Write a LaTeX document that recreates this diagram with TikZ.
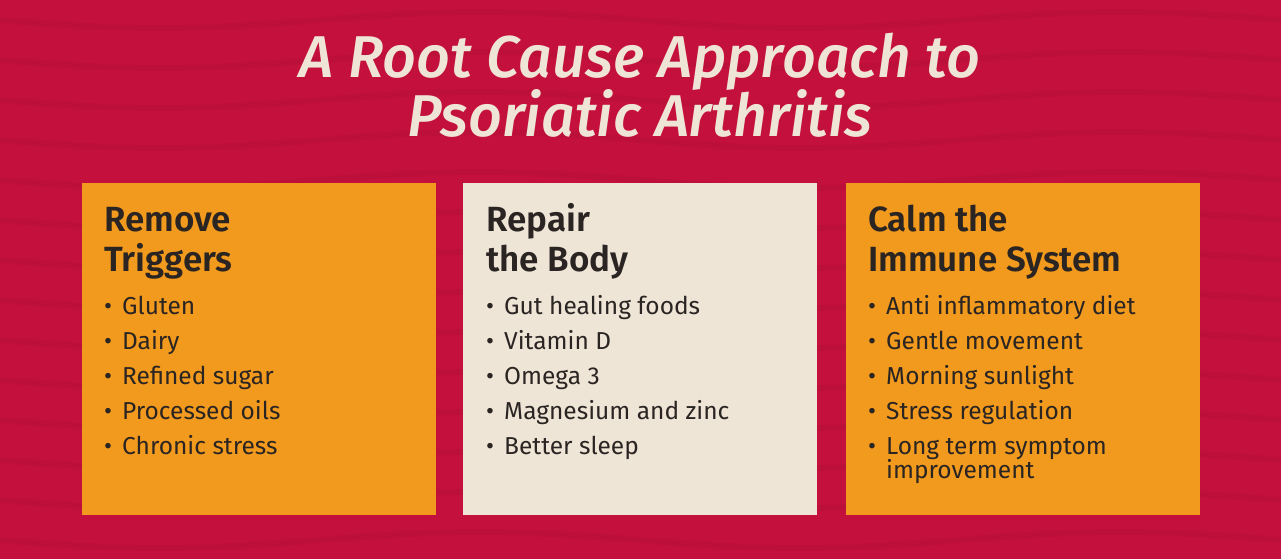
\documentclass[tikz,border=0pt]{standalone}
\usepackage{fontspec}
\setmainfont{Fira Sans}
\newfontfamily\headfont{Fira Sans SemiBold}
\newfontfamily\titlefont{Fira Sans Medium}
\definecolor{bg}{HTML}{C4103D}
\definecolor{org}{HTML}{F29A1E}
\definecolor{crm}{HTML}{EFE5D7}
\definecolor{ink}{HTML}{2A2522}
\tikzset{
 card/.style={inner sep=0pt,minimum width=354pt,minimum height=332pt,anchor=north west},
 head/.style={anchor=base west,font=\fontsize{35}{40}\headfont,text=ink,inner sep=0pt},
 item/.style={anchor=base west,font=\fontsize{24.5}{25}\selectfont,text=ink,inner sep=0pt},
 ttl/.style={anchor=base,font=\fontsize{59}{60}\titlefont\itshape,text=crm,inner sep=0pt}
}
\newcommand{\bul}{\makebox[18pt][l]{\textbullet}}
\begin{document}
\begin{tikzpicture}[x=1pt,y=-1pt]
\useasboundingbox (0,0) rectangle (1281,559);
\fill[bg] (0,0) rectangle (1281,559);
\begin{scope}
\clip (0,0) rectangle (1281,559);
\foreach \y in {20,60,...,540}{
 \draw[bg!85!black,line width=6pt,opacity=0.25] (0,\y) sin (160,\y+8) cos (320,\y) sin (480,\y-8) cos (640,\y) sin (800,\y+8) cos (960,\y) sin (1120,\y-8) cos (1281,\y);
}
\end{scope}
\node[ttl] (t1) at (640,78) {A Root Cause Approach to};
\node[ttl] (t2) at (640,136) {Psoriatic Arthritis};
\node[card,fill=org] (c1) at (82,183) {};
\node[card,fill=crm] (c2) at (463,183) {};
\node[card,fill=org] (c3) at (846,183) {};
\node[head] (h1a) at (104,231) {Remove};
\node[head] (h1b) at (104,271) {Triggers};
\node[head] (h2a) at (486,231) {Repair};
\node[head] (h2b) at (486,271) {the Body};
\node[head] (h3a) at (868,231) {Calm the};
\node[head] (h3b) at (868,271) {Immune System};
\foreach \t [count=\i] in {Gluten,Dairy,Refined sugar,Processed oils,Chronic stress}
 \node[item] (a\i) at (104,279+35*\i) {\bul\t};
\foreach \t [count=\i] in {Gut healing foods,Vitamin D,Omega 3,Magnesium and zinc,Better sleep}
 \node[item] (b\i) at (486,279+35*\i) {\bul\t};
\foreach \t [count=\i] in {Anti inflammatory diet,Gentle movement,Morning sunlight,Stress regulation,Long term symptom}
 \node[item] (d\i) at (868,279+35*\i) {\bul\t};
\node[item] (d6) at (886,478) {improvement};
\end{tikzpicture}
\end{document}
